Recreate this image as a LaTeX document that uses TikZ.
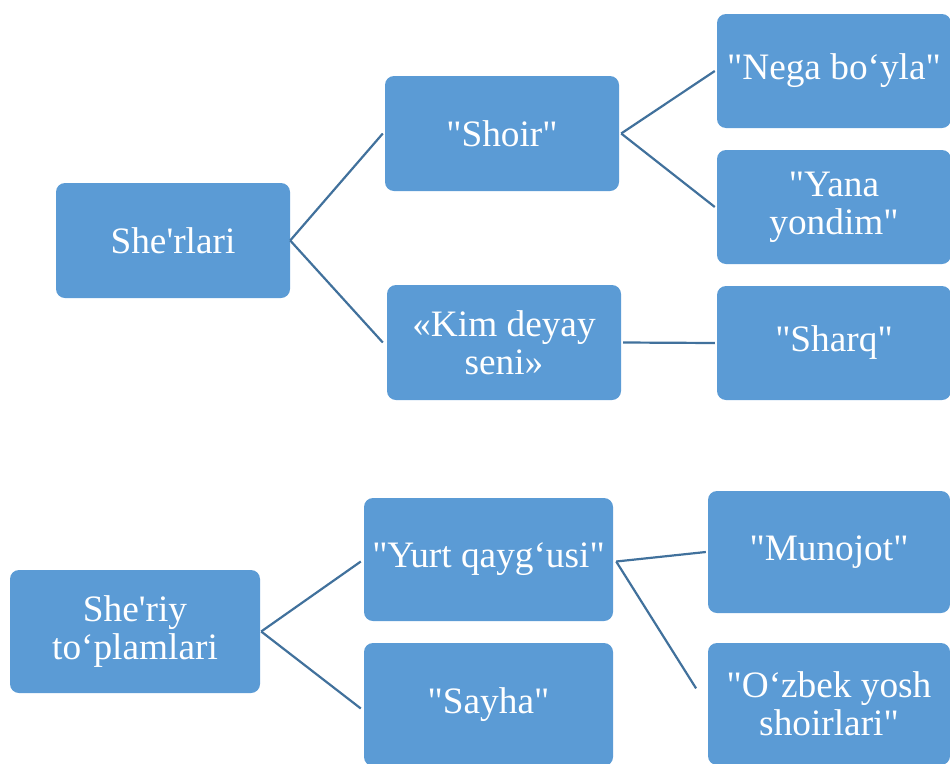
\documentclass[tikz,border=0pt]{standalone}
\usepackage{fontspec}
\setmainfont{Liberation Serif}[Ligatures=TeXOff]
\definecolor{boxfill}{HTML}{5B9BD5}
\definecolor{linecol}{HTML}{41719C}
\begin{document}
\begin{tikzpicture}[x=1pt,y=-1pt,
  box/.style={rectangle, rounded corners=9pt, fill=boxfill, draw=none, text=white,
    align=center, inner sep=0pt, font=\fontsize{37.3}{38}\selectfont},
  conn/.style={draw=linecol, line width=2.2pt}]
\useasboundingbox (0,0) rectangle (950,763);
% top tree
\node[box, minimum width=234pt, minimum height=115pt] (sherlari) at (173,240.5) {She'rlari};
\node[box, minimum width=234pt, minimum height=115pt] (shoir) at (502,133.5) {"Shoir"};
\node[box, minimum width=234pt, minimum height=115pt] (kim) at (504,342.5) {«Kim deyay\\seni»};
\node[box, minimum width=234pt, minimum height=114pt] (nega) at (834,71) {"Nega bo‘yla"};
\node[box, minimum width=234pt, minimum height=114pt] (yana) at (834,207) {"Yana\\yondim"};
\node[box, minimum width=234pt, minimum height=114pt] (sharq) at (834,343) {"Sharq"};
% bottom tree
\node[box, minimum width=250pt, minimum height=123pt] (sheriy) at (135,631.5) {She'riy\\to‘plamlari};
\node[box, minimum width=249pt, minimum height=123pt] (yurt) at (488.5,559.5) {"Yurt qayg‘usi"};
\node[box, minimum width=249pt, minimum height=123pt] (sayha) at (488.5,704.5) {"Sayha"};
\node[box, minimum width=242pt, minimum height=122pt] (munojot) at (829,552) {"Munojot"};
\node[box, minimum width=242pt, minimum height=122pt] (ozbek) at (829,704) {"O‘zbek yosh\\shoirlari"};
% connectors
\draw[conn] (sherlari.east) -- ([xshift=-2pt]shoir.west);
\draw[conn] (sherlari.east) -- ([xshift=-4pt]kim.west);
\draw[conn] ([xshift=2pt]shoir.east) -- ([xshift=-2pt]nega.west);
\draw[conn] ([xshift=2pt]shoir.east) -- ([xshift=-2pt]yana.west);
\draw[conn] ([xshift=2pt]kim.east) -- ([xshift=-2pt]sharq.west);
\draw[conn] ([xshift=1pt]sheriy.east) -- ([xshift=-3pt,yshift=-2pt]yurt.west);
\draw[conn] ([xshift=1pt]sheriy.east) -- ([xshift=-3pt,yshift=-4pt]sayha.west);
\draw[conn] ([xshift=3pt,yshift=-2pt]yurt.east) -- ([xshift=-2pt]munojot.west);
\draw[conn, shorten >=22pt] ([xshift=3pt,yshift=-2pt]yurt.east) -- ([yshift=-3pt]ozbek.west);
\end{tikzpicture}
\end{document}
